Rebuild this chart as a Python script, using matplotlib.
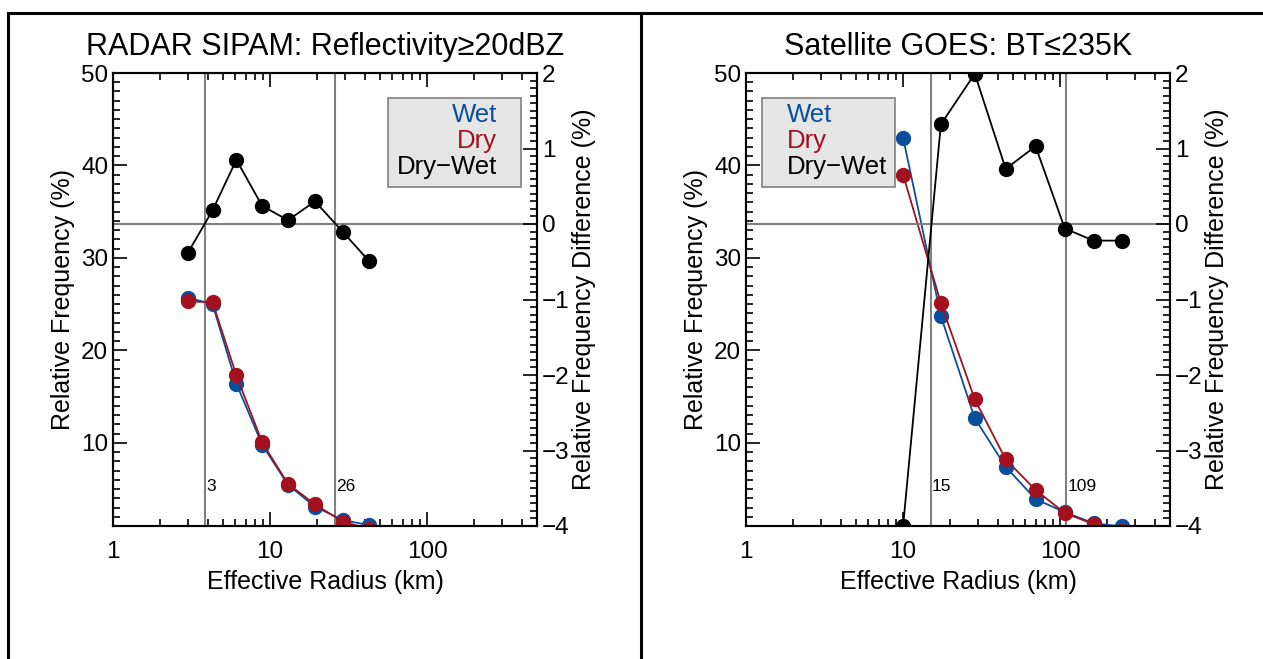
import numpy as np
import matplotlib
matplotlib.use('Agg')
from matplotlib import pyplot as plt
from matplotlib.ticker import MultipleLocator, LogLocator, FixedLocator, NullFormatter
from matplotlib.patches import Rectangle
from matplotlib.lines import Line2D

plt.rcParams['font.family'] = ['Liberation Sans', 'DejaVu Sans']

# radar panel
radar_r = [3.0, 4.3, 6.1, 8.9, 13.0, 19.3, 28.9, 42.6]
radar_wet = [25.7, 25.0, 16.4, 9.8, 5.45, 3.1, 1.65, 1.1]
radar_dry = [25.3, 25.2, 17.3, 10.05, 5.55, 3.35, 1.47, 0.7]
radar_diff = [-0.38, 0.18, 0.85, 0.24, 0.05, 0.30, -0.10, -0.49]
radar_lines = [3.83, 25.9]
radar_line_labels = ['3', '26']

# satellite panel
sat_r = [10.0, 17.4, 28.6, 45.0, 69.7, 107.0, 163.0, 247.0]
sat_wet = [43.0, 23.7, 12.65, 7.4, 3.9, 2.5, 1.3, 0.95]
sat_dry = [39.0, 25.1, 14.7, 8.2, 4.9, 2.4, 1.2, 0.5]
sat_diff = [-4.0, 1.32, 1.99, 0.73, 1.03, -0.06, -0.22, -0.22]
sat_lines = [15.0, 109.0]
sat_line_labels = ['15', '109']

titles = ['RADAR SIPAM: Reflectivity\u226520dBZ', 'Satellite GOES: BT\u2264235K']
legend_labels = ['Wet', 'Dry', 'Dry\u2212Wet']

blue = '#0a4f9e'
red = '#a3111e'
gray = '#808080'

W, H = 1263, 659
fig = plt.figure(figsize=(W / 100, H / 100), dpi=100)


def make_panel(left, r, wet, dry, diff, vlines, vlabels, title, legend_right):
    ax = fig.add_axes([left / W, (H - 526) / H, 424 / W, 453 / H])
    ax2 = ax.twinx()
    ax.set_xscale('log')
    ax.set_xlim(1, 500)
    ax.set_ylim(1, 50)
    ax2.set_ylim(-4, 2)

    ax2.axhline(0, color=gray, lw=1.5, zorder=1)
    for v, lab in zip(vlines, vlabels):
        ax.axvline(v, color=gray, lw=1.5, zorder=1)
        ax.text(v * 1.02, 5.3, lab, fontsize=12.5, ha='left', va='center')

    ax.plot(r, wet, '-o', color=blue, lw=1.3, ms=10, zorder=3)
    ax.plot(r, dry, '-o', color=red, lw=1.3, ms=10, zorder=4)
    ax2.plot(r, diff, '-o', color='black', lw=1.3, ms=10, zorder=3)

    ax.set_title(title, fontsize=22, pad=13)
    ax.set_xlabel('Effective Radius (km)', fontsize=18, labelpad=5)
    ax.set_ylabel('Relative Frequency (%)', fontsize=18, labelpad=4)
    ax2.set_ylabel('Relative Frequency Difference (%)', fontsize=18, labelpad=2)

    ax.xaxis.set_major_locator(FixedLocator([1, 10, 100]))
    ax.xaxis.set_major_formatter(plt.FuncFormatter(lambda x, p: '%d' % x))
    ax.xaxis.set_minor_locator(LogLocator(base=10, subs=np.arange(2, 10)))
    ax.xaxis.set_minor_formatter(NullFormatter())
    ax.yaxis.set_major_locator(FixedLocator([10, 20, 30, 40, 50]))
    ax.yaxis.set_minor_locator(MultipleLocator(1))
    ax2.yaxis.set_major_locator(MultipleLocator(1))
    ax2.yaxis.set_minor_locator(MultipleLocator(0.1))

    ax.tick_params(which='both', direction='in', top=True, right=False, labelsize=17.5, width=1.2)
    ax.tick_params(which='major', length=10)
    ax.tick_params(which='minor', length=5)
    ax.tick_params(axis='x', pad=11)
    ax2.tick_params(which='both', direction='in', labelsize=17.5, width=1.2)
    ax2.tick_params(which='major', length=10)
    ax2.tick_params(which='minor', length=5)
    for a in (ax, ax2):
        for s in a.spines.values():
            s.set_linewidth(1.5)

    # legend box drawn by hand
    if legend_right:
        bx, tx, ha = 388, 497, 'right'
    else:
        bx, tx, ha = 762, 787, 'left'
    x0 = (bx - left) / 424
    ax.add_patch(Rectangle((x0, (526 - 187) / 453), 133 / 424, 89 / 453,
                           transform=ax.transAxes, facecolor='#e5e5e5',
                           edgecolor=gray, lw=1.2, zorder=5))
    for k, (lab, col) in enumerate(zip(legend_labels, [blue, red, 'black'])):
        ax.text((tx - left) / 424, (526 - (115 + 26 * k)) / 453, lab, color=col,
                fontsize=18.5, ha=ha, va='center', transform=ax.transAxes, zorder=6)
    return ax, ax2


make_panel(113, radar_r, radar_wet, radar_dry, radar_diff, radar_lines,
           radar_line_labels, titles[0], True)
make_panel(746, sat_r, sat_wet, sat_dry, sat_diff, sat_lines,
           sat_line_labels, titles[1], False)

# frame around the figure
fig.add_artist(Line2D([8 / W, 1], [1 - 13 / H, 1 - 13 / H], color='black', lw=2.2))
fig.add_artist(Line2D([8 / W, 8 / W], [0, 1 - 13 / H], color='black', lw=2.2))
fig.add_artist(Line2D([641 / W, 641 / W], [0, 1 - 13 / H], color='black', lw=2.2))

fig.savefig('out.png', dpi=100)
